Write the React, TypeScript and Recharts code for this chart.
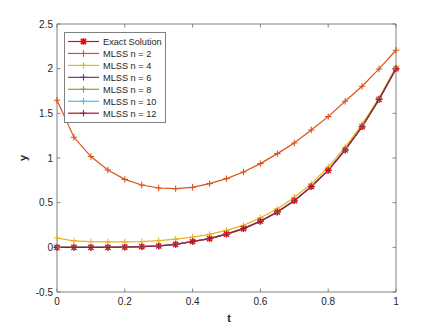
import { LineChart, Line, XAxis, YAxis } from "recharts";

// sample points of t
const tValues = [0, 0.05, 0.1, 0.15, 0.2, 0.25, 0.3, 0.35, 0.4, 0.45, 0.5, 0.55, 0.6, 0.65, 0.7, 0.75, 0.8, 0.85, 0.9, 0.95, 1];

const exactValues = [0, 0, 0, 0, 0.002, 0.007, 0.015, 0.034, 0.065, 0.097, 0.148, 0.209, 0.292, 0.395, 0.522, 0.68, 0.862, 1.09, 1.35, 1.656, 2.0];
const mlss2 = [1.646, 1.232, 1.016, 0.866, 0.761, 0.698, 0.664, 0.657, 0.672, 0.713, 0.769, 0.843, 0.937, 1.049, 1.168, 1.314, 1.463, 1.635, 1.803, 1.997, 2.206];
const mlss4 = [0.104, 0.072, 0.063, 0.06, 0.06, 0.064, 0.075, 0.092, 0.115, 0.145, 0.19, 0.246, 0.332, 0.43, 0.56, 0.71, 0.9, 1.12, 1.38, 1.67, 2.02];
const mlss6 = [0, 0, 0, 0, 0.002, 0.007, 0.016, 0.034, 0.066, 0.098, 0.149, 0.21, 0.293, 0.396, 0.523, 0.681, 0.863, 1.091, 1.351, 1.657, 2.0];
const mlss8 = [0, 0, 0, 0, 0.002, 0.007, 0.015, 0.034, 0.065, 0.097, 0.148, 0.209, 0.292, 0.395, 0.522, 0.68, 0.862, 1.09, 1.35, 1.656, 2.0];
const mlss10 = [0, 0, 0, 0, 0.002, 0.007, 0.015, 0.034, 0.065, 0.097, 0.148, 0.209, 0.292, 0.395, 0.522, 0.68, 0.862, 1.09, 1.35, 1.656, 2.0];
const mlss12 = [0, 0, 0, 0, 0.002, 0.007, 0.015, 0.034, 0.065, 0.097, 0.148, 0.209, 0.292, 0.395, 0.522, 0.68, 0.862, 1.09, 1.35, 1.656, 2.0];

const xTicks = [0, 0.2, 0.4, 0.6, 0.8, 1];
const yTicks = [-0.5, 0, 0.5, 1, 1.5, 2, 2.5];

const series = [
  { key: "exact", label: "Exact Solution", color: "#FF0000", marker: "star" },
  { key: "n2", label: "MLSS n = 2", color: "#D95319", marker: "plus" },
  { key: "n4", label: "MLSS n = 4", color: "#EDB120", marker: "plus" },
  { key: "n6", label: "MLSS n = 6", color: "#7E2F8E", marker: "plus" },
  { key: "n8", label: "MLSS n = 8", color: "#77AC30", marker: "plus" },
  { key: "n10", label: "MLSS n = 10", color: "#4DBEEE", marker: "plus" },
  { key: "n12", label: "MLSS n = 12", color: "#A2142F", marker: "plus" },
];

const data = tValues.map((t, i) => ({
  t,
  exact: exactValues[i],
  n2: mlss2[i],
  n4: mlss4[i],
  n6: mlss6[i],
  n8: mlss8[i],
  n10: mlss10[i],
  n12: mlss12[i],
}));

const AXIS = "#808080";
const TEXT = "#262626";
const FONT = "'Liberation Sans', Arial, sans-serif";
const TICK = 3.5;

function markerPath(kind: string, cx: number, cy: number) {
  const r = 3.2;
  if (kind === "star") {
    const d = 2.6;
    return `M${cx - r},${cy}H${cx + r}M${cx},${cy - r}V${cy + r}M${cx - d},${cy - d}L${cx + d},${cy + d}M${cx - d},${cy + d}L${cx + d},${cy - d}`;
  }
  return `M${cx - r},${cy}H${cx + r}M${cx},${cy - r}V${cy + r}`;
}

const makeDot = (kind: string, color: string) => (props: any) => {
  const { cx, cy, index } = props;
  if (cx == null || cy == null) return <g key={index} />;
  return (
    <path
      key={index}
      d={markerPath(kind, cx, cy)}
      stroke={color}
      strokeWidth={kind === "star" ? 1.4 : 1.1}
      fill="none"
    />
  );
};

const BottomTick = ({ x, y, payload }: any) => (
  <g>
    <line x1={x} x2={x} y1={y} y2={y - TICK} stroke={AXIS} />
    <text x={x} y={y + 13} textAnchor="middle" fontSize={10} fill={TEXT} fontFamily={FONT}>
      {payload.value}
    </text>
  </g>
);

const TopTick = ({ x, y }: any) => (
  <line x1={x} x2={x} y1={y} y2={y + TICK} stroke={AXIS} />
);

const LeftTick = ({ x, y, payload }: any) => (
  <g>
    <line x1={x} x2={x + TICK} y1={y} y2={y} stroke={AXIS} />
    <text x={x - 4} y={y + 3.5} textAnchor="end" fontSize={10} fill={TEXT} fontFamily={FONT}>
      {payload.value}
    </text>
  </g>
);

const RightTick = ({ x, y }: any) => (
  <line x1={x} x2={x - TICK} y1={y} y2={y} stroke={AXIS} />
);

const XTitle = () => (
  <text x={229} y={322} textAnchor="middle" fontSize={11} fontWeight="bold" fill={TEXT} fontFamily={FONT}>
    t
  </text>
);

const YTitle = () => (
  <text
    x={27}
    y={158}
    transform="rotate(-90 27 158)"
    textAnchor="middle"
    fontSize={11}
    fontWeight="bold"
    fill={TEXT}
    fontFamily={FONT}
  >
    y
  </text>
);

function LegendBox() {
  const rowH = 11.95;
  return (
    <div
      style={{
        position: "absolute",
        left: 64,
        top: 32,
        width: 102,
        height: 91,
        background: "#fff",
        border: `1px solid ${AXIS}`,
        boxSizing: "border-box",
      }}
    >
      <svg width={100} height={89}>
        {series.map((s, i) => {
          const y = 8.5 + i * rowH;
          return (
            <g key={s.key}>
              <line x1={3} x2={34} y1={y} y2={y} stroke={s.color} strokeWidth={1.2} />
              <path d={markerPath(s.marker, 18.5, y)} stroke={s.color} strokeWidth={s.marker === "star" ? 1.6 : 1.1} fill="none" />
              <text x={38} y={y + 3.4} fontSize={9.2} fill={TEXT} fontFamily={FONT}>
                {s.label}
              </text>
            </g>
          );
        })}
      </svg>
    </div>
  );
}

export default function App() {
  return (
    <div style={{ position: "absolute", left: 0, top: 0, width: 438, height: 328, background: "#fff" }}>
      <LineChart width={438} height={328} data={data} margin={{ top: 0, right: 0, bottom: 0, left: 0 }}>
        <XAxis
          dataKey="t"
          type="number"
          domain={[0, 1]}
          ticks={xTicks}
          tick={<BottomTick />}
          tickSize={0}
          tickMargin={0}
          tickLine={false}
          axisLine={{ stroke: AXIS }}
          height={36}
          label={<XTitle />}
        />
        <XAxis
          xAxisId="top"
          orientation="top"
          dataKey="t"
          type="number"
          domain={[0, 1]}
          ticks={xTicks}
          tick={<TopTick />}
          tickSize={0}
          tickMargin={0}
          tickLine={false}
          axisLine={{ stroke: AXIS }}
          height={24}
        />
        <YAxis
          type="number"
          domain={[-0.5, 2.5]}
          ticks={yTicks}
          tick={<LeftTick />}
          tickSize={0}
          tickMargin={0}
          tickLine={false}
          axisLine={{ stroke: AXIS }}
          width={57}
          allowDataOverflow
          label={<YTitle />}
        />
        <YAxis
          yAxisId="right"
          orientation="right"
          type="number"
          domain={[-0.5, 2.5]}
          ticks={yTicks}
          tick={<RightTick />}
          tickSize={0}
          tickMargin={0}
          tickLine={false}
          axisLine={{ stroke: AXIS }}
          width={42}
          allowDataOverflow
        />
        {series.map((s) => (
          <Line
            key={s.key}
            dataKey={s.key}
            name={s.label}
            type="linear"
            stroke={s.color}
            strokeWidth={1.2}
            dot={makeDot(s.marker, s.color)}
            activeDot={false}
            isAnimationActive={false}
          />
        ))}
      </LineChart>
      <LegendBox />
    </div>
  );
}
